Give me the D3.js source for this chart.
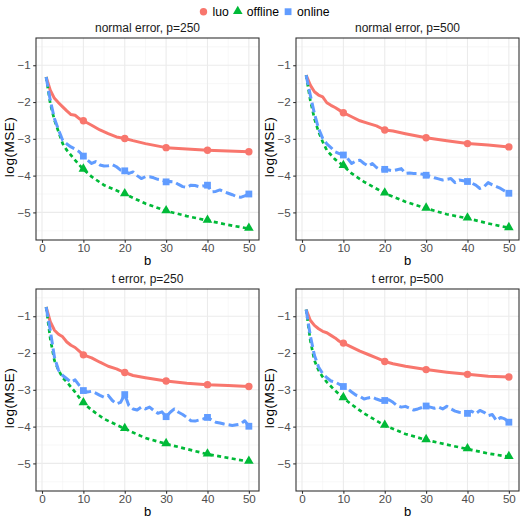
<!DOCTYPE html>
<html>
<head>
<meta charset="utf-8">
<script src="https://cdn.jsdelivr.net/npm/d3@7"></script>
<style>
  body { margin: 0; background: #fff; }
  text { font-family: "Liberation Sans", Arial, sans-serif; font-weight: 400; }
</style>
</head>
<body>
<svg id="chart" width="525" height="522"></svg>
<script>
// panel titles and series names
const panelTitles = ["normal error, p=250", "normal error, p=500", "t error, p=250", "t error, p=500"];
const seriesNames = ["luo", "offline", "online"];

// luo (solid red), read at these b values
const bLuo = [1, 2, 3, 4, 5, 6, 7, 8, 9, 10, 12, 14, 16, 18, 20, 22, 25, 30, 35, 40, 45, 50];
const luoNormal250 = [-1.32, -1.68, -1.90, -2.02, -2.13, -2.24, -2.34, -2.36, -2.45, -2.51, -2.63, -2.76, -2.86, -2.95, -2.99, -3.05, -3.13, -3.24, -3.28, -3.31, -3.33, -3.35];
const luoNormal500 = [-1.27, -1.54, -1.72, -1.81, -1.86, -2.02, -2.09, -2.15, -2.22, -2.29, -2.40, -2.51, -2.58, -2.65, -2.76, -2.79, -2.86, -2.97, -3.05, -3.13, -3.17, -3.22];
const luoT250 = [-0.75, -1.15, -1.38, -1.49, -1.56, -1.70, -1.79, -1.85, -1.95, -2.05, -2.13, -2.25, -2.36, -2.43, -2.53, -2.61, -2.67, -2.76, -2.82, -2.86, -2.88, -2.91];
const luoT500 = [-0.82, -1.11, -1.25, -1.34, -1.41, -1.45, -1.52, -1.59, -1.68, -1.73, -1.84, -1.95, -2.04, -2.13, -2.23, -2.29, -2.36, -2.45, -2.52, -2.58, -2.63, -2.65];

// offline (dotted green)
const bOffline = [1, 2, 3, 4, 5, 6, 8, 10, 12, 15, 20, 25, 30, 35, 40, 45, 50];
const offNormal250 = [-1.32, -2.04, -2.49, -2.81, -3.13, -3.31, -3.58, -3.83, -4.03, -4.26, -4.50, -4.76, -4.96, -5.10, -5.22, -5.34, -5.44];
const offNormal500 = [-1.27, -1.95, -2.45, -2.81, -3.08, -3.31, -3.56, -3.73, -3.94, -4.17, -4.48, -4.71, -4.89, -5.05, -5.16, -5.30, -5.42];
const offT250 = [-0.75, -1.61, -2.20, -2.47, -2.67, -2.79, -3.06, -3.36, -3.55, -3.79, -4.06, -4.31, -4.47, -4.61, -4.75, -4.85, -4.95];
const offT500 = [-0.82, -1.65, -2.20, -2.47, -2.65, -2.79, -3.02, -3.22, -3.40, -3.64, -3.97, -4.20, -4.36, -4.49, -4.61, -4.73, -4.82];

// online (dashed blue), one value for each b = 1..50
const bOnline = d3.range(1, 51);
const onNormal250 = [-1.32, -1.95, -2.45, -2.76, -3.04, -3.14, -3.22, -3.28, -3.35, -3.47,
  -3.58, -3.67, -3.62, -3.71, -3.74, -3.73, -3.70, -3.76, -3.85, -3.87,
  -3.94, -3.90, -4.00, -4.08, -4.03, -4.03, -4.06, -4.10, -4.12, -4.17,
  -4.16, -4.17, -4.24, -4.30, -4.32, -4.26, -4.27, -4.30, -4.28, -4.26,
  -4.44, -4.43, -4.39, -4.44, -4.48, -4.52, -4.57, -4.59, -4.55, -4.50];
const onNormal500 = [-1.27, -1.81, -2.31, -2.72, -2.99, -3.14, -3.24, -3.35, -3.40, -3.44,
  -3.53, -3.67, -3.60, -3.58, -3.67, -3.74, -3.67, -3.78, -3.85, -3.83,
  -3.85, -3.87, -3.84, -3.81, -3.94, -3.93, -3.94, -3.94, -3.96, -3.99,
  -4.02, -4.06, -4.09, -4.12, -4.10, -4.08, -4.19, -4.12, -4.14, -4.16,
  -4.20, -4.26, -4.35, -4.30, -4.19, -4.25, -4.30, -4.35, -4.42, -4.48];
const onT250 = [-0.75, -1.38, -2.11, -2.47, -2.61, -2.70, -2.79, -2.73, -2.88, -3.02,
  -3.06, -3.04, -3.09, -3.15, -3.20, -3.15, -3.29, -3.38, -3.34, -3.13,
  -3.43, -3.52, -3.55, -3.47, -3.52, -3.47, -3.56, -3.64, -3.60, -3.73,
  -3.61, -3.52, -3.61, -3.67, -3.75, -3.84, -3.85, -3.82, -3.79, -3.75,
  -3.82, -3.88, -3.90, -3.93, -3.95, -3.97, -3.95, -3.93, -3.84, -3.99];
const onT500 = [-0.82, -1.52, -2.06, -2.38, -2.56, -2.67, -2.76, -2.79, -2.85, -2.91,
  -2.97, -3.06, -3.14, -3.18, -3.25, -3.22, -3.20, -3.25, -3.29, -3.29,
  -3.27, -3.34, -3.43, -3.47, -3.45, -3.50, -3.55, -3.52, -3.48, -3.44,
  -3.47, -3.50, -3.47, -3.52, -3.45, -3.52, -3.58, -3.61, -3.62, -3.64,
  -3.58, -3.65, -3.56, -3.61, -3.70, -3.67, -3.84, -3.75, -3.79, -3.88];

// b values that carry a marker
const markerB = [10, 20, 30, 40, 50];

const xTicks = [0, 10, 20, 30, 40, 50];
const xMinor = [5, 15, 25, 35, 45];
const yTicks = [-1, -2, -3, -4, -5];
const yMinor = [-0.5, -1.5, -2.5, -3.5, -4.5, -5.5];

const luoByPanel = [luoNormal250, luoNormal500, luoT250, luoT500];
const offByPanel = [offNormal250, offNormal500, offT250, offT500];
const onByPanel = [onNormal250, onNormal500, onT250, onT500];

const colors = { luo: "#F8766D", offline: "#00BA38", online: "#619CFF" };
const dashes = { luo: null, offline: "4,3.4", online: "10,4" };

const svg = d3.select("#chart");

// panel boxes
const panelLeft = [36, 296];
const panelTop = [38, 289];
const panelW = 223, panelH = 202;

let x = d3.scaleLinear().domain([-1.45, 52.45]).range([0, panelW]);
let y = d3.scaleLinear().domain([-5.75, -0.26]).range([panelH, 0]);

let line = d3.line().x(d => x(d[0])).y(d => y(d[1]));

let zip = function(bs, vs) {
    return bs.map((b, i) => [b, vs[i]]);
};

let drawMarker = function(g, name, px, py) {
    if (name === "luo") {
        g.append("circle").attr("cx", px).attr("cy", py).attr("r", 3.7).attr("fill", colors.luo);
    } else if (name === "offline") {
        g.append("path").attr("d", d3.symbol().type(d3.symbolTriangle).size(40)())
            .attr("transform", "translate(" + px + "," + (py - 0.5) + ")").attr("fill", colors.offline);
    } else {
        g.append("rect").attr("x", px - 3.4).attr("y", py - 3.4).attr("width", 6.8).attr("height", 6.8)
            .attr("fill", colors.online);
    }
};

for (let p = 0; p < 4; p++) {
    let left = panelLeft[p % 2];
    let top = panelTop[Math.floor(p / 2)];
    let g = svg.append("g").attr("transform", "translate(" + left + "," + top + ")");

    g.append("rect").attr("width", panelW).attr("height", panelH).attr("fill", "#fff");

    // minor grid
    g.selectAll(".xminor").data(xMinor).enter().append("line")
        .attr("x1", d => x(d)).attr("x2", d => x(d)).attr("y1", 0).attr("y2", panelH)
        .attr("stroke", "#f2f2f2").attr("stroke-width", 0.6);
    g.selectAll(".yminor").data(yMinor).enter().append("line")
        .attr("y1", d => y(d)).attr("y2", d => y(d)).attr("x1", 0).attr("x2", panelW)
        .attr("stroke", "#f2f2f2").attr("stroke-width", 0.6);
    // major grid
    g.selectAll(".xmajor").data(xTicks).enter().append("line")
        .attr("x1", d => x(d)).attr("x2", d => x(d)).attr("y1", 0).attr("y2", panelH)
        .attr("stroke", "#ebebeb").attr("stroke-width", 1.1);
    g.selectAll(".ymajor").data(yTicks).enter().append("line")
        .attr("y1", d => y(d)).attr("y2", d => y(d)).attr("x1", 0).attr("x2", panelW)
        .attr("stroke", "#ebebeb").attr("stroke-width", 1.1);

    let series = {
        luo: zip(bLuo, luoByPanel[p]),
        offline: zip(bOffline, offByPanel[p]),
        online: zip(bOnline, onByPanel[p])
    };

    seriesNames.forEach(function(name) {
        g.append("path")
            .datum(series[name])
            .attr("fill", "none")
            .attr("stroke", colors[name])
            .attr("stroke-width", name === "offline" ? 2.7 : 3)
            .attr("stroke-dasharray", dashes[name])
            .attr("stroke-linejoin", "round")
            .attr("d", line);
    });

    seriesNames.forEach(function(name) {
        series[name].filter(d => markerB.indexOf(d[0]) >= 0).forEach(function(d) {
            drawMarker(g, name, x(d[0]), y(d[1]));
        });
    });

    g.append("rect").attr("width", panelW).attr("height", panelH)
        .attr("fill", "none").attr("stroke", "#333333").attr("stroke-width", 1.1);

    // axes
    let xAxis = g.append("g").attr("transform", "translate(0," + panelH + ")")
        .call(d3.axisBottom(x).tickValues(xTicks).tickSize(2.8).tickPadding(1));
    let yAxis = g.append("g")
        .call(d3.axisLeft(y).tickValues(yTicks).tickSize(2.8).tickPadding(2.4)
            .tickFormat(d => "\u2212" + Math.abs(d)));
    [xAxis, yAxis].forEach(function(a) {
        a.select(".domain").remove();
        a.selectAll(".tick line").attr("stroke", "#333333").attr("stroke-width", 1.1);
        a.selectAll(".tick text").attr("fill", "#4d4d4d")
            .style("font-size", "11.6px").style("font-family", "'Liberation Sans', Arial, sans-serif");
    });

    g.append("text").attr("x", panelW / 2).attr("y", -6.5).attr("text-anchor", "middle")
        .style("font-size", "12px").attr("fill", "#1a1a1a").text(panelTitles[p]);
    g.append("text").attr("x", panelW / 2).attr("y", panelH + 25).attr("text-anchor", "middle")
        .style("font-size", "13px").attr("fill", "#000").text("b");
    g.append("text").attr("transform", "translate(" + (-22.5) + "," + (panelH / 2 + 8) + ") rotate(-90)")
        .attr("text-anchor", "middle").style("font-size", "13.5px").style("letter-spacing", "0.5px")
        .attr("fill", "#000").text("log(MSE)");
}

// legend
let legend = svg.append("g").attr("transform", "translate(0,11.7)");
let lx = 199.5;
seriesNames.forEach(function(name) {
    drawMarker(legend, name, lx + 4, 0);
    let t = legend.append("text").attr("x", lx + 13).attr("y", 4.3)
        .style("font-size", "12.2px").attr("fill", "#000").text(name);
    lx += 13 + t.node().getComputedTextLength() + 5;
});
</script>
</body>
</html>
